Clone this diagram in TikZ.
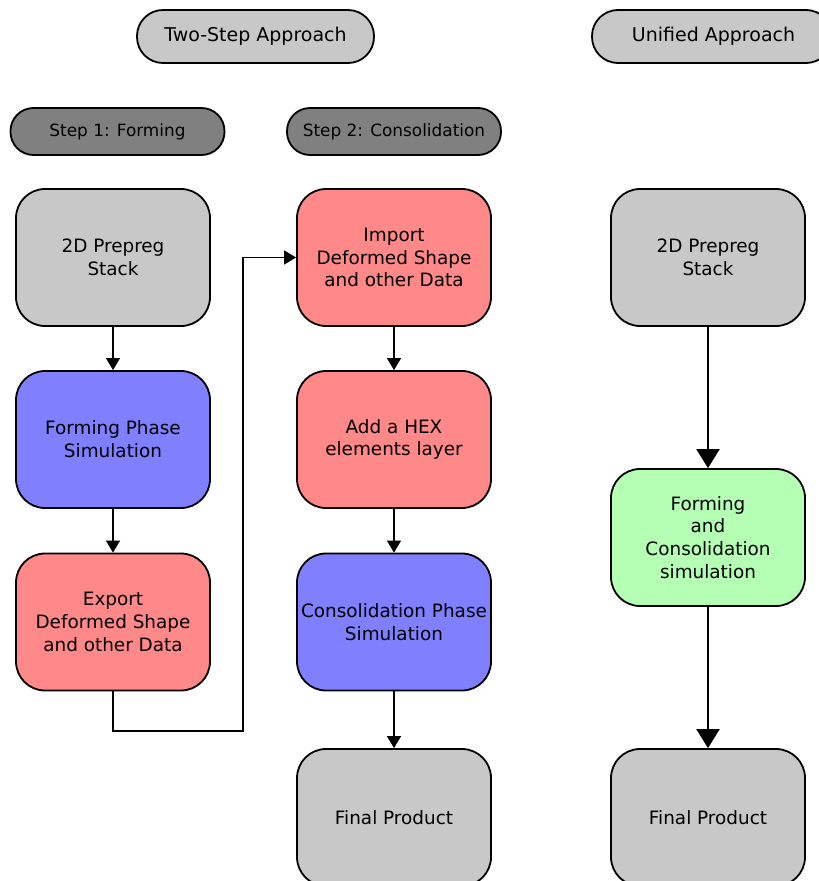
\documentclass[tikz,border=0pt]{standalone}
\usepackage{fontspec}
\setmainfont{DejaVu Sans}
\usetikzlibrary{arrows.meta}
\definecolor{lgray}{RGB}{200,200,200}
\definecolor{dgray}{RGB}{128,128,128}
\definecolor{bluebox}{RGB}{128,128,255}
\definecolor{redbox}{RGB}{255,136,136}
\definecolor{greenbox}{RGB}{180,255,180}
\tikzset{
  box/.style={draw=black, line width=1.8pt, rounded corners=29pt, minimum width=194pt, minimum height=137pt, inner sep=0pt, align=center, font=\fontsize{18.4}{22.8}\selectfont},
  pill/.style={draw=black, line width=1.8pt, rounded corners=26pt, minimum width=237pt, minimum height=53pt, inner sep=0pt, fill=lgray, font=\fontsize{19}{22}\selectfont},
  steppill/.style={draw=black, line width=1.8pt, rounded corners=23pt, minimum width=214pt, minimum height=47pt, inner sep=0pt, fill=dgray, font=\fontsize{16.9}{19}\selectfont},
  thinarrow/.style={line width=1.2pt, -{Triangle[length=12pt,width=14pt]}},
  thickarrow/.style={line width=2.2pt, -{Triangle[length=19pt,width=23pt]}}
}
\begin{document}
\begin{tikzpicture}[x=1pt,y=-1pt]
\useasboundingbox (0,0) rectangle (819,881);
\clip (0,0) rectangle (819,881);
% headers
\node[pill] (two) at (255.5,36.5) {Two-Step Approach};
\node[pill, minimum width=240pt] (uni) at (712,36.5) {\hspace*{3pt}Unified Approach};
\node[steppill] (s1) at (117.5,131.5) {Step 1: Forming};
\node[steppill] (s2) at (394,131.5) {Step 2: Consolidation};
% left column
\node[box, fill=lgray] (a1) at (113,257.5) {2D Prepreg\\Stack};
\node[box, fill=bluebox] (a2) at (113,439.5) {Forming Phase\\Simulation};
\node[box, fill=redbox] (a3) at (113,622) {Export\\Deformed Shape\\and other Data};
% middle column
\node[box, fill=redbox] (b1) at (394,257.5) {Import\\Deformed Shape\\and other Data};
\node[box, fill=redbox] (b2) at (394,439.5) {Add a HEX\\elements layer};
\node[box, fill=bluebox] (b3) at (394,622) {Consolidation Phase\\Simulation};
\node[box, fill=lgray] (b4) at (394,817.5) {Final Product};
% right column
\node[box, fill=lgray] (c1) at (708,257.5) {2D Prepreg\\Stack};
\node[box, fill=greenbox] (c2) at (708,537.5) {Forming\\and\\Consolidation\\simulation};
\node[box, fill=lgray] (c3) at (708,817.5) {Final Product};
% connectors
\draw[thinarrow] (a1) -- (a2);
\draw[thinarrow] (a2) -- (a3);
\coordinate (j1) at (243,731);
\draw[thinarrow] (a3.south) |- (j1) |- (b1.west);
\draw[thinarrow] (b1) -- (b2);
\draw[thinarrow] (b2) -- (b3);
\draw[thinarrow] (b3) -- (b4);
\draw[thickarrow] (c1) -- (c2);
\draw[thickarrow] (c2) -- (c3);
\end{tikzpicture}
\end{document}
